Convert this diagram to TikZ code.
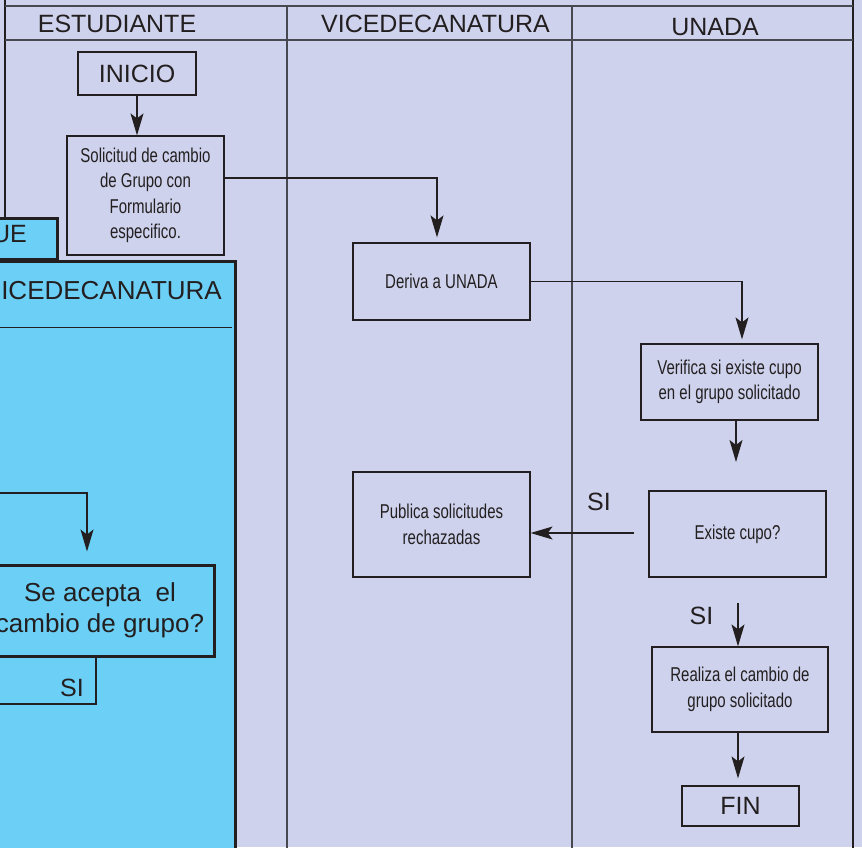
\documentclass[tikz,border=0pt]{standalone}
\usepackage{fontspec}
\setmainfont{Liberation Sans}
\newfontfamily\condfont[FakeStretch=0.75]{Liberation Sans}
\usetikzlibrary{arrows.meta}
\definecolor{lav}{RGB}{206,210,236}
\definecolor{cyanp}{RGB}{108,207,245}
\definecolor{ink}{RGB}{35,31,32}
\definecolor{lanegray}{RGB}{72,72,80}
\begin{document}
\begin{tikzpicture}[x=1pt,y=-1pt,
  box/.style={draw=ink,line width=1.2pt,fill=lav,inner sep=0pt,align=center,
    font=\condfont\fontsize{20}{25.5}\selectfont,text=ink},
  termbox/.style={draw=ink,line width=1.2pt,fill=lav,inner sep=0pt,
    font=\fontsize{25}{30}\selectfont,text=ink},
  bigtxt/.style={font=\fontsize{25}{30}\selectfont,text=ink,inner sep=0pt},
  arr/.style={draw=ink,line width=1.2pt,-{Stealth[length=22pt,width=13pt,inset=5pt]}},
  lane/.style={draw=lanegray,line width=1.3pt},
  frame/.style={draw=ink,line width=2.6pt},
  panel/.style={draw=ink,line width=3pt,fill=cyanp}
]
\useasboundingbox (0,0) rectangle (862,847);
\clip (0,0) rectangle (862,847);
\fill[lav] (0,0) rectangle (862,847);

% swimlane frame
\draw[frame] (5,-2) -- (5,262);
\draw[frame] (853,-2) -- (853,850);
\draw[lane] (5,6) -- (853,6);
\draw[lane] (5,40) -- (853,40);
\draw[lane] (287,6) -- (287,850);
\draw[lane] (572,6) -- (572,850);

% headers
\node[bigtxt,anchor=base] (h1) at (117,32) {ESTUDIANTE};
\node[bigtxt,anchor=base] (h2) at (435.5,32) {VICEDECANATURA};
\node[bigtxt,anchor=base] (h3) at (715,35) {UNADA};

% boxes
\node[termbox,minimum width=118pt,minimum height=43pt] (inicio) at (137,73.5) {INICIO};
\node[box,minimum width=157pt,minimum height=119pt] (solic) at (145.5,195.5)
  {Solicitud de cambio\\de Grupo con\\Formulario\\especifico.};
\node[box,minimum width=177pt,minimum height=77pt] (deriva) at (441.5,281.5) {Deriva a UNADA};
\node[box,minimum width=177pt,minimum height=76pt] (verif) at (729.5,382)
  {Verifica si existe cupo\\en el grupo solicitado};
\node[box,minimum width=177pt,minimum height=86pt] (existe) at (737.5,534) {Existe cupo?};
\node[box,minimum width=177pt,minimum height=105pt] (publica) at (441.5,524.5)
  {Publica solicitudes\\rechazadas};
\node[box,minimum width=176pt,minimum height=85pt] (realiza) at (740,689.5)
  {Realiza el cambio de\\grupo solicitado};
\node[termbox,minimum width=117pt,minimum height=40pt] (fin) at (740.5,806) {FIN};

% labels
\node[bigtxt] (si1) at (599,502) {SI};
\node[bigtxt] (si2) at (701.5,616) {SI};

% connectors
\draw[arr] (inicio.south) -- (inicio.south |- solic.north);
\draw[arr] ([yshift=17.5pt]solic.east) -| ([xshift=-4.5pt,yshift=5pt]deriva.north);
\draw[arr] (deriva.east) -| ([xshift=12.5pt,yshift=4pt]verif.north);
\coordinate (v1) at (736,462);
\draw[arr] ([xshift=6.5pt]verif.south) -- (v1);
\coordinate (e1) at (634,533);
\draw[arr] (e1) -- (e1 -| publica.east);
\coordinate (s2) at (738,603);
\draw[arr] (s2) -- (s2 |- realiza.north);
\coordinate (r1) at ([xshift=-2pt]realiza.south);
\draw[arr,shorten >=7pt] (r1) -- (r1 |- fin.north);

% overlapping cyan panel
\draw[panel] (-10,218) rectangle (57,259);
\node[bigtxt,anchor=base east] (ue) at (27,242) {UE};
\draw[panel] (-10,261) rectangle (235,870);
\node[font=\fontsize{26}{30}\selectfont,text=ink,inner sep=0pt,anchor=base east] (vt) at (222,299) {ICEDECANATURA};
\draw[draw=ink,line width=1pt] (-10,327) -- (232,327);
\node[draw=ink,line width=3pt,fill=cyanp,minimum width=228pt,minimum height=91pt,
  inner sep=0pt,align=center,font=\fontsize{26}{31}\selectfont,text=ink] (acepta) at (100,610.5)
  {Se acepta\ \ el\\cambio de grupo?};
\coordinate (a0) at (-10,493);
\draw[arr] (a0) -| ([xshift=-13pt,yshift=12pt]acepta.north);
\coordinate (a1) at (-10,704);
\draw[draw=ink,line width=1.2pt] ([xshift=-4pt]acepta.south) |- (a1);
\node[bigtxt,anchor=base east] (si3) at (84,696) {SI};
\end{tikzpicture}
\end{document}
